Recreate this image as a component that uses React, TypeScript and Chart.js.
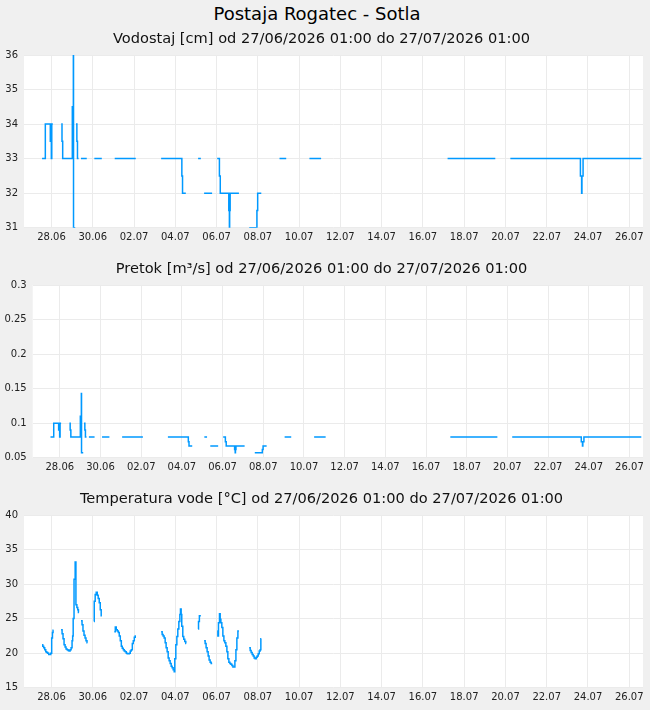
import React, { useEffect, useRef } from 'react';
import { Chart, registerables } from 'chart.js';

Chart.register(...registerables);

const FONT = 'DejaVu Sans';
const LINE = '#0099ff';
const GRID = '#ebebeb';

const mainTitle = 'Postaja Rogatec - Sotla';
const levelTitle = 'Vodostaj [cm] od 27/06/2026 01:00 do 27/07/2026 01:00';
const flowTitle = 'Pretok [m³/s] od 27/06/2026 01:00 do 27/07/2026 01:00';
const tempTitle = 'Temperatura vode [°C] od 27/06/2026 01:00 do 27/07/2026 01:00';

// x axis: hours since 27/06/2026 01:00
const tickHours = [32, 80, 128, 176, 224, 272, 320, 368, 416, 464, 512, 560, 608, 656, 704];
const tickLabels = ['28.06', '30.06', '02.07', '04.07', '06.07', '08.07', '10.07', '12.07', '14.07', '16.07', '18.07', '20.07', '22.07', '24.07', '26.07'];

// Water level and flow (same timestamps), null = gap
const levelTimes = [
  21, 24.8, 30.6, 31.2, 31.8, 32.3, 33.5, 38,
  43.3, 44.2, 45, 56.2, 57, 57.4, 57.6, 59.6, 60,
  60.5, 61.5, 62.2, 63.5, 65,
  66.3, 73, 77,
  81.8, 90.5, 95,
  105.5, 130, 140,
  159.5, 183.6, 184.4, 188.2, 195,
  202.5, 205.7, 207,
  209.5, 218.8, 221,
  224.7, 227.3, 228.3, 238.2, 238.9, 239.2, 239.8, 250, 255,
  262, 270.9, 271.8, 276, 285,
  297.2, 305, 320,
  332, 345.6, 400,
  492.7, 548.2, 555,
  565.7, 647.2, 648.6, 649, 650.3, 718,
];
const levelValues = [
  33, 34, 33.5, 34, 33, 34, 34, null,
  34, 33.5, 33, 34.5, 33.5, 36, 31, 31, null,
  34, 33.5, 33, 33, null,
  33, 33, null,
  33, 33, null,
  33, 33, null,
  33, 32.5, 32, 32, null,
  33, 33, null,
  32, 32, null,
  33, 32.5, 32, 31.5, 31, 31.5, 32, 32, null,
  31, 31.5, 32, 32, null,
  33, 33, null,
  33, 33, null,
  33, 33, null,
  33, 32.5, 32, 32.5, 33, 33,
];
const flowValues = [
  0.08, 0.1, 0.09, 0.1, 0.08, 0.1, 0.1, null,
  0.1, 0.09, 0.08, 0.11, 0.09, 0.143, 0.057, 0.057, null,
  0.1, 0.09, 0.08, 0.08, null,
  0.08, 0.08, null,
  0.08, 0.08, null,
  0.08, 0.08, null,
  0.08, 0.073, 0.067, 0.067, null,
  0.08, 0.08, null,
  0.067, 0.067, null,
  0.08, 0.073, 0.067, 0.062, 0.057, 0.062, 0.067, 0.067, null,
  0.057, 0.062, 0.067, 0.067, null,
  0.08, 0.08, null,
  0.08, 0.08, null,
  0.08, 0.08, null,
  0.08, 0.073, 0.067, 0.073, 0.08, 0.08,
];

// Water temperature, null = gap
const tempTimes = [
  21, 21.8, 22.9, 24.1, 25.3, 26.4, 27.6, 28.8, 29.9, 31.1, 32.2, 33.1, 33.8, 34.4, 38,
  43.1, 44.3, 45.4, 46.6, 47.8, 48.9, 50.1, 51.3, 52.4, 53.6, 54.8, 55.9, 56.6, 57.2, 58.2, 59.5, 60.4, 61.5, 62.5, 63.3, 63.9, 65,
  66.3, 67.5, 68.6, 69.8, 71, 72.1, 73.3, 73.8, 77,
  81.5, 81.7, 82.8, 84, 85.2, 86.3, 87.5, 88.7, 89.8, 90.6, 95,
  105, 106.2, 107.3, 108.5, 109.7, 110.8, 112, 113.2, 114.3, 115.5, 116.6, 117.8, 119, 120.1, 121.3, 122.5, 123.6, 124.8, 126, 127.1, 128.3, 129.4, 130.2, 140,
  159.5, 160.7, 161.8, 163, 164.2, 165.3, 166.5, 167.7, 168.8, 170, 171.2, 172.3, 173.5, 174.7, 175.4, 176.6, 177.8, 178.9, 180.1, 181.3, 182, 182.8, 183.5, 184.7, 185.8, 187, 188.2, 188.6, 195,
  202.5, 203, 204, 205.7, 207,
  209.5, 210.7, 211.8, 213, 214.2, 215.3, 216.5, 217.7, 218.9, 221,
  224.7, 225.5, 226.2, 227.4, 228.2, 229, 230.1, 231.3, 232.5, 233.6, 234.8, 236, 237.1, 238.3, 239.5, 240.6, 241.8, 243, 244.1, 245.3, 246.5, 247.6, 248.8, 250, 255,
  261.9, 263.1, 264.2, 265.4, 266.6, 267.7, 268.9, 270.1, 271.2, 272.4, 273.6, 274.7, 275.5, 276,
];
const tempValues = [
  21.2, 21.0, 20.8, 20.5, 20.2, 20.1, 20.0, 19.8, 19.8, 20.0, 22.2, 23.0, 23.3, 23.3, null,
  23.4, 22.8, 22.1, 21.2, 20.9, 20.6, 20.5, 20.4, 20.3, 20.5, 20.8, 21.8, 22.5, 25.0, 30.7, 33.2, 27.0, 26.6, 26.3, 25.9, 25.9, null,
  24.7, 24.1, 23.2, 22.6, 22.2, 21.8, 21.5, 21.5, null,
  24.6, 27.5, 28.5, 28.8, 28.4, 27.9, 27.3, 26.3, 25.4, 25.4, null,
  23.1, 23.8, 23.4, 23.2, 23.0, 22.5, 21.8, 21.0, 20.7, 20.5, 20.3, 20.2, 20.0, 19.9, 19.9, 20.0, 20.3, 20.5, 21.4, 21.8, 22.3, 22.5, 22.5, null,
  23.1, 22.7, 22.5, 22.2, 21.5, 20.8, 20.2, 19.3, 18.9, 18.5, 18.1, 17.9, 17.6, 17.3, 19.2, 21.2, 22.4, 23.5, 24.6, 25.6, 26.4, 25.6, 23.9, 22.4, 22.0, 21.7, 21.4, 21.4, null,
  23.5, 24.6, 25.4, 25.4, null,
  21.8, 21.4, 20.8, 20.2, 19.6, 19.0, 18.7, 18.5, 18.5, null,
  23.2, 22.5, 24.4, 25.7, 24.9, 24.4, 23.7, 22.5, 21.8, 21.5, 21.0, 20.2, 19.2, 18.7, 18.5, 18.4, 18.2, 18.0, 18.0, 18.9, 20.5, 22.2, 23.2, 23.2, null,
  20.8, 20.4, 20.1, 19.8, 19.6, 19.3, 19.2, 19.4, 19.6, 19.9, 20.3, 20.5, 22.1, 22.1,
];

const plotBg = {
  id: 'plotBg',
  beforeDraw(chart: any) {
    const { ctx, chartArea: a } = chart;
    ctx.save();
    ctx.fillStyle = '#ffffff';
    ctx.fillRect(a.left, a.top, a.right - a.left, a.bottom - a.top);
    ctx.restore();
  },
};

function fmt(v: number) {
  return String(parseFloat(Number(v).toFixed(3)));
}

function makeConfig(title: string, times: number[], values: (number | null)[], yMin: number, yMax: number, step: number, yWidth: number): any {
  return {
    type: 'line',
    data: {
      datasets: [
        {
          data: times.map((t, i) => ({ x: t, y: values[i] })),
          borderColor: LINE,
          borderWidth: 1.5,
          pointRadius: 0,
          stepped: 'before',
          spanGaps: false,
          fill: false,
          tension: 0,
        },
      ],
    },
    options: {
      animation: false,
      responsive: false,
      maintainAspectRatio: false,
      layout: { padding: { left: 0, right: 7, top: 0, bottom: 0 } },
      plugins: {
        legend: { display: false },
        tooltip: { enabled: false },
        title: {
          display: true,
          text: title,
          color: '#111',
          font: { family: FONT, size: 14.6, weight: 'normal', lineHeight: 18 / 14.6 },
          padding: { top: 5, bottom: 7 },
        },
      },
      scales: {
        x: {
          type: 'linear',
          min: 0,
          max: 720,
          afterBuildTicks: (s: any) => {
            s.ticks = tickHours.map((v) => ({ value: v }));
          },
          afterFit: (s: any) => {
            s.height = 27.3;
          },
          ticks: {
            autoSkip: false,
            maxRotation: 0,
            padding: 4,
            color: '#222',
            font: { family: FONT, size: 10 },
            callback: (v: any) => {
              const i = tickHours.indexOf(Number(v));
              return i >= 0 ? tickLabels[i] : '';
            },
          },
          grid: { color: GRID, drawTicks: false },
          border: { display: false },
        },
        y: {
          min: yMin,
          max: yMax,
          afterFit: (s: any) => {
            s.width = yWidth;
          },
          ticks: {
            stepSize: step,
            padding: 6,
            color: '#222',
            font: { family: FONT, size: 10 },
            callback: (v: any) => fmt(v),
          },
          grid: { color: GRID, drawTicks: false },
          border: { display: false },
        },
      },
    },
    plugins: [plotBg],
  };
}

function Panel({ top, config }: { top: number; config: any }) {
  const ref = useRef<HTMLCanvasElement | null>(null);
  useEffect(() => {
    if (!ref.current) return;
    const chart = new Chart(ref.current, config);
    return () => chart.destroy();
  }, []);
  return (
    <canvas
      ref={ref}
      width={650}
      height={230}
      style={{ position: 'absolute', left: 0, top, width: 650, height: 230 }}
    />
  );
}

export default function App() {
  return (
    <div
      style={{
        position: 'fixed',
        left: 0,
        top: 0,
        width: 650,
        height: 710,
        background: '#f0f0f0',
        overflow: 'hidden',
      }}
    >
      <div
        style={{
          position: 'absolute',
          top: 3,
          left: 0,
          width: 634,
          textAlign: 'center',
          fontFamily: FONT,
          fontSize: 18,
          lineHeight: '22px',
          color: '#000',
        }}
      >
        {mainTitle}
      </div>
      <Panel top={25} config={makeConfig(levelTitle, levelTimes, levelValues, 31, 36, 1, 24)} />
      <Panel top={255} config={makeConfig(flowTitle, levelTimes, flowValues, 0.05, 0.3, 0.05, 32.7)} />
      <Panel top={485} config={makeConfig(tempTitle, tempTimes, tempValues, 15, 40, 5, 24)} />
    </div>
  );
}
